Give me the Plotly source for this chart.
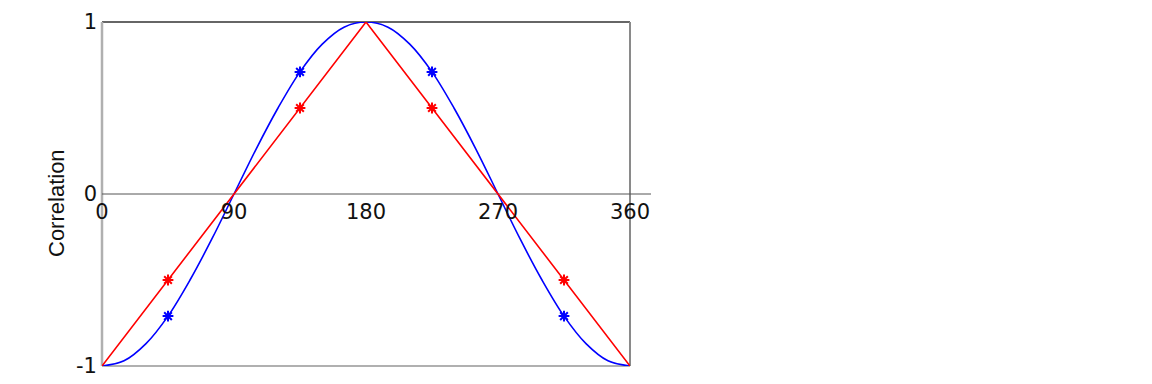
import plotly.graph_objects as go

# ---- data ----
angles = [0, 15, 30, 45, 60, 75, 90, 105, 120, 135, 150, 165, 180,
          195, 210, 225, 240, 255, 270, 285, 300, 315, 330, 345, 360]
blue_values = [-1.0, -0.97, -0.87, -0.71, -0.5, -0.26, 0.0, 0.26, 0.5, 0.71, 0.87, 0.97, 1.0,
               0.97, 0.87, 0.71, 0.5, 0.26, 0.0, -0.26, -0.5, -0.71, -0.87, -0.97, -1.0]
red_angles = [0, 45, 90, 135, 180, 225, 270, 315, 360]
red_values = [-1.0, -0.5, 0.0, 0.5, 1.0, 0.5, 0.0, -0.5, -1.0]
marker_angles = [45, 135, 225, 315]
blue_marker_values = [-0.71, 0.71, 0.71, -0.71]
red_marker_values = [-0.5, 0.5, 0.5, -0.5]
x_ticks = [0, 90, 180, 270, 360]
x_tick_labels = ["0", "90", "180", "270", "360"]
y_ticks = [-1, 0, 1]
y_tick_labels = ["-1", "0", "1"]
y_title = "Correlation"

BLUE = "#0000ff"
RED = "#ff0000"

fig = go.Figure()
fig.add_trace(go.Scatter(x=angles, y=blue_values, mode="lines",
                         line=dict(color=BLUE, width=1.6, shape="spline"),
                         cliponaxis=False, showlegend=False, hoverinfo="skip"))
fig.add_trace(go.Scatter(x=red_angles, y=red_values, mode="lines",
                         line=dict(color=RED, width=1.6),
                         cliponaxis=False, showlegend=False, hoverinfo="skip"))
fig.add_trace(go.Scatter(x=marker_angles, y=blue_marker_values, mode="markers",
                         marker=dict(symbol="asterisk-open", size=9, color=BLUE,
                                     line=dict(color=BLUE, width=2)),
                         cliponaxis=False, showlegend=False))
fig.add_trace(go.Scatter(x=marker_angles, y=red_marker_values, mode="markers",
                         marker=dict(symbol="asterisk-open", size=9, color=RED,
                                     line=dict(color=RED, width=2)),
                         cliponaxis=False, showlegend=False))

tick_font = dict(family="DejaVu Sans", size=21, color="#111111")

# the page body adds an 8px offset, so margins are compensated
fig.update_layout(
    width=1152, height=384,
    margin=dict(l=94, r=530, t=14, b=26, autoexpand=False),
    paper_bgcolor="white", plot_bgcolor="white",
    xaxis=dict(range=[0, 360], tickvals=x_ticks, ticktext=x_tick_labels,
               anchor="free", position=0.5, showgrid=False, zeroline=False,
               showline=False, ticks="", tickfont=tick_font, ticklabelstandoff=3,
               automargin=False),
    yaxis=dict(range=[-1, 1], tickvals=y_ticks, ticktext=y_tick_labels,
               showgrid=False, zeroline=False, showline=False, ticks="",
               tickfont=tick_font, ticklabelstandoff=4, automargin=False),
    annotations=[dict(text=y_title, textangle=-90, xref="paper", yref="paper",
                      x=(56 - 102) / 528, y=(366 - 203) / 344, showarrow=False,
                      font=dict(family="Liberation Sans", size=22, color="#111111"),
                      xanchor="center", yanchor="middle")],
    shapes=[
        # frame
        dict(type="line", xref="paper", yref="paper", x0=0, x1=1, y0=1, y1=1,
             line=dict(color="#666666", width=2), layer="below"),
        dict(type="line", xref="paper", yref="paper", x0=0, x1=0, y0=0, y1=1,
             line=dict(color="#b0b0b0", width=2.5), layer="below"),
        dict(type="line", xref="paper", yref="paper", x0=1, x1=1, y0=0, y1=1,
             line=dict(color="#8a8a8a", width=2), layer="below"),
        dict(type="line", xref="paper", yref="paper", x0=0, x1=1, y0=0, y1=0,
             line=dict(color="#b0b0b0", width=2), layer="below"),
        # zero line extending beyond right edge
        dict(type="line", xref="paper", yref="y", x0=0, x1=(651 - 102) / 528, y0=0, y1=0,
             line=dict(color="#555555", width=1), layer="below"),
    ],
)

fig.write_html("out.html")
